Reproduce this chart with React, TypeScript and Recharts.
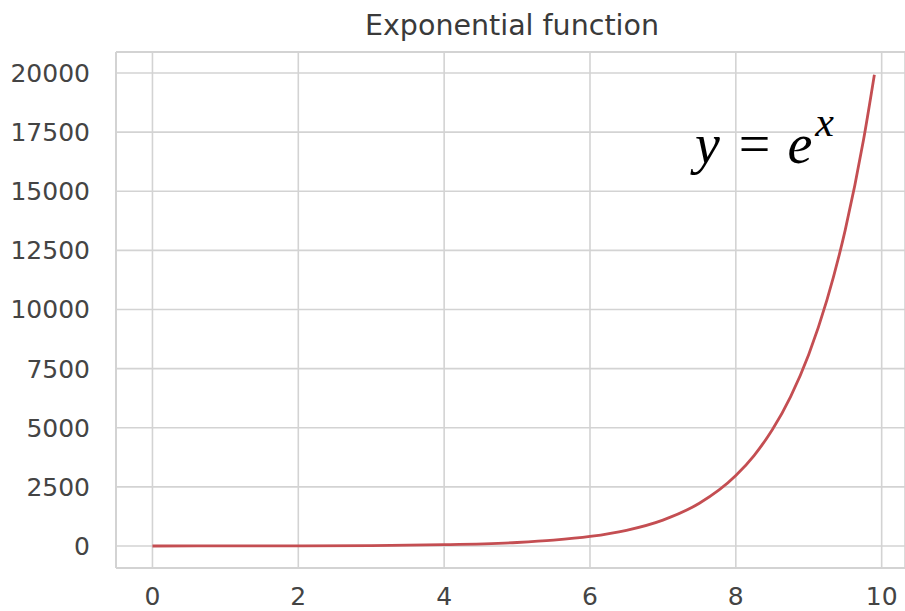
import { LineChart, Line, XAxis, YAxis, CartesianGrid, ReferenceLine, ReferenceDot } from 'recharts';

// values
const xValues = [0, 1, 2, 3, 4, 5, 5.5, 6, 6.5, 7, 7.5, 8, 8.25, 8.5, 8.75, 9, 9.25, 9.5, 9.75, 9.9];
const yValues = [1, 3, 7, 20, 55, 148, 245, 403, 665, 1097, 1808, 2981, 3827, 4915, 6310, 8103, 10405, 13360, 17154, 19930];

const xTicks = [0, 2, 4, 6, 8, 10];
const yTicks = [0, 2500, 5000, 7500, 10000, 12500, 15000, 17500, 20000];

const xDomain = [-0.5, 10.32];
const yDomain = [-930, 20890];

const title = 'Exponential function';

const data = xValues.map((x, i) => ({ x, y: yValues[i] }));

const gridColor = '#d3d3d3';
const textColor = '#444444';
const lineColor = '#C44E52';
const tickFont = { fontFamily: 'DejaVu Sans', fontSize: 25, fill: textColor };

function EquationLabel(props: any) {
  const { viewBox } = props;
  const x = viewBox.x;
  const y = viewBox.y;
  return (
    <text x={x} y={y} fontFamily="Liberation Serif" fontStyle="italic" fontSize={56} fill="#000">
      <tspan>y</tspan>
      <tspan fontStyle="normal" dx={19}>=</tspan>
      <tspan dx={17}>e</tspan>
      <tspan fontSize={42} dy={-27} dx={3}>x</tspan>
    </text>
  );
}

export default function App() {
  return (
    <div style={{ position: 'absolute', left: 0, top: 0, width: 905, height: 611, background: '#fff' }}>
      <svg width={905} height={50} style={{ position: 'absolute', left: 0, top: 0 }}>
        <text x={512} y={35} textAnchor="middle" fontFamily="DejaVu Sans" fontSize={28.5} fill="#3a3a3a">
          {title}
        </text>
      </svg>
      <div style={{ position: 'absolute', left: 0, top: 0 }}>
        <LineChart width={905} height={611} data={data} margin={{ top: 52, right: 0, bottom: 0, left: 0 }}>
          <CartesianGrid stroke={gridColor} strokeWidth={1.6} />
          <XAxis
            dataKey="x"
            type="number"
            domain={xDomain}
            ticks={xTicks}
            allowDataOverflow
            height={43}
            tickLine={false}
            tickSize={0}
            tickMargin={19}
            axisLine={{ stroke: gridColor, strokeWidth: 2 }}
            tick={tickFont}
          />
          <YAxis
            type="number"
            domain={yDomain}
            ticks={yTicks}
            allowDataOverflow
            width={116}
            tickLine={false}
            tickSize={0}
            tickMargin={26}
            axisLine={{ stroke: gridColor, strokeWidth: 2 }}
            tick={tickFont}
          />
          <ReferenceLine y={yDomain[1]} stroke={gridColor} strokeWidth={2} />
          <Line
            type="monotone"
            dataKey="y"
            stroke={lineColor}
            strokeWidth={2.8}
            dot={false}
            isAnimationActive={false}
          />
          <ReferenceDot x={7.44} y={16200} r={0} fill="none" stroke="none" label={<EquationLabel />} />
        </LineChart>
      </div>
    </div>
  );
}
